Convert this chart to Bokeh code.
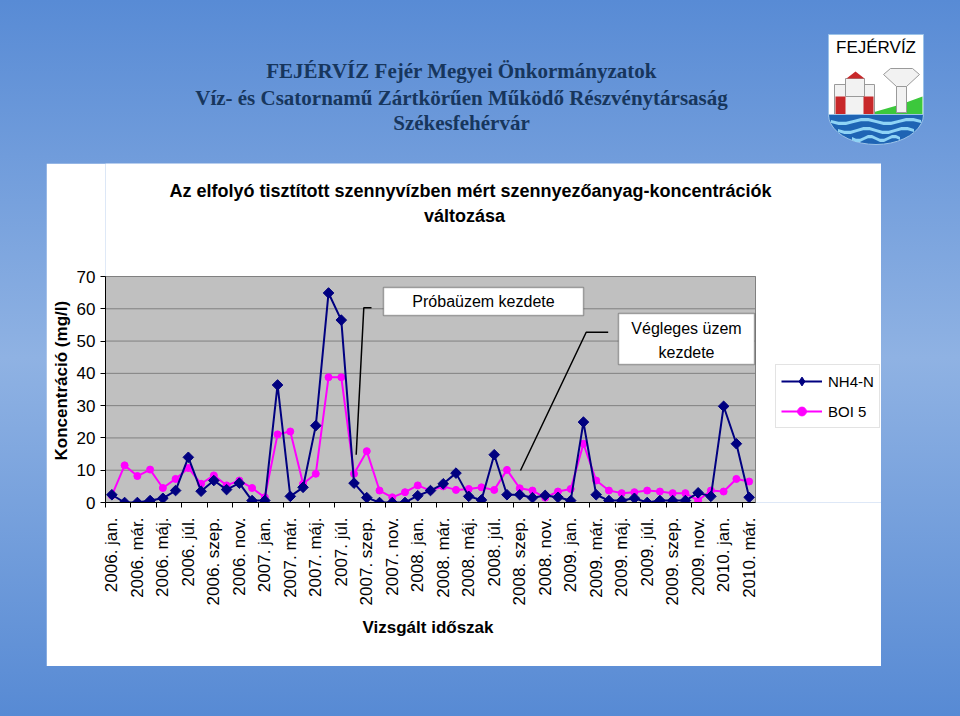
import math
from bokeh.plotting import figure
from bokeh.layouts import column, row
from bokeh.models import (Range1d, FixedTicker, BoxAnnotation, Label, Legend, LegendItem,
                          ColumnDataSource, Spacer, Title)
from bokeh.embed import file_html
from bokeh.resources import INLINE

# ---------------- data ----------------
tick_labels = ["2006. jan.", "2006. már.", "2006. máj.", "2006. júl.", "2006. szep.", "2006. nov.",
               "2007. jan.", "2007. már.", "2007. máj.", "2007. júl.", "2007. szep.", "2007. nov.",
               "2008. jan.", "2008. már.", "2008. máj.", "2008. júl.", "2008. szep.", "2008. nov.",
               "2009. jan.", "2009. már.", "2009. máj.", "2009. júl.", "2009. szep.", "2009. nov.",
               "2010. jan.", "2010. már."]
nh4_n = [2.4, 0, 0, 0.6, 1.3, 3.7, 14.0, 3.5, 6.8, 4.0, 6.0, 0.6, 0.6, 36.4, 1.9, 4.7, 23.8,
         64.9, 56.5, 6.0, 1.5, 0, 0, 0, 2.1, 3.7, 5.8, 9.1, 1.9, 0.8, 14.8, 2.4, 2.4, 1.5, 2.2,
         1.6, 0.6, 24.9, 2.4, 0.6, 0.6, 1.3, 0, 0.6, 0.6, 0.6, 3.0, 1.9, 29.8, 18.2, 1.6]
boi_5 = [2.2, 11.5, 8.2, 10.2, 4.5, 7.3, 10.7, 5.8, 8.4, 5.3, 6.8, 4.5, 1.6, 21.1, 22.0, 5.8,
         8.9, 38.8, 38.8, 8.9, 15.9, 3.7, 1.6, 3.2, 5.3, 3.7, 5.0, 3.9, 4.2, 4.7, 3.9, 10.1, 4.4,
         3.7, 1.5, 3.4, 4.2, 18.2, 6.8, 3.7, 2.9, 3.2, 3.7, 3.4, 2.9, 2.9, 0.6, 3.7, 3.4, 7.3, 6.5]
series_names = ["NH4-N", "BOI 5"]
y_ticks = [0, 10, 20, 30, 40, 50, 60, 70]
header_lines = ["FEJÉRVÍZ Fejér Megyei Önkormányzatok",
                "Víz- és Csatornamű Zártkörűen Működő Részvénytársaság",
                "Székesfehérvár"]
chart_title = ["Az elfolyó tisztított szennyvízben mért szennyezőanyag-koncentrációk", "változása"]
x_title = "Vizsgált időszak"
y_title = "Koncentráció (mg/l)"

n = len(nh4_n)
src = ColumnDataSource(dict(x=list(range(n)), nh4=nh4_n, boi=boi_5))

SANS = "Liberation Sans"
SERIF = "Liberation Serif"
NAVY = "#17365D"

# page geometry (pixels)
PW, PH = 960, 716
BOX_L, BOX_T, BOX_R, BOX_B = 46, 163, 881, 666     # white chart area
FL, FT, FR, FB = 105, 276, 755, 502                  # grey plot area


def lab(f, X, Y, text, size, font=SANS, style="normal", color="black", align="center"):
    f.add_layout(Label(x=X, y=Y, text=text, text_font=font, text_font_size=size,
                       text_font_style=style, text_color=color, text_align=align,
                       text_baseline="middle"))


# ---------------- header (transparent, page-pixel coordinates) ----------------
hdr = figure(width=PW, height=BOX_T, output_backend="svg", toolbar_location=None,
             x_range=Range1d(0, PW), y_range=Range1d(BOX_T, 0),
             min_border=0, min_border_left=0, min_border_right=0, min_border_top=0,
             min_border_bottom=0, outline_line_color=None,
             background_fill_color=None, border_fill_color=None)
hdr.axis.visible = False
hdr.grid.visible = False
for Y, txt in zip([70, 97, 122], header_lines):
    lab(hdr, 461, Y, txt, "21px", font=SERIF, style="bold", color=NAVY)

# logo
hdr.quad(left=828, right=923, top=34, bottom=116, fill_color="white", line_color="#9CC3E8")
lab(hdr, 875.5, 47, "FEJÉRVÍZ", "17px")
hdr.patch([872, 900, 922, 922, 872], [112, 104, 96, 116, 116], fill_color="#3CC83C", line_color=None)
hdr.quad(left=834, right=874, top=84, bottom=116, fill_color="#F2F2F2", line_color="#9A9A9A")
hdr.quad(left=845, right=864, top=78, bottom=96, fill_color="#F2F2F2", line_color="#9A9A9A")
hdr.patch([846, 855, 864], [78, 71, 78], fill_color="#C8282A", line_color=None)
hdr.quad(left=[835, 863], right=[845, 873], top=[96, 96], bottom=[116, 116],
         fill_color="#C8282A", line_color=None)
hdr.quad(left=896, right=906, top=84, bottom=112, fill_color="#F2F2F2", line_color="#9A9A9A")
hdr.patch([883, 890, 912, 919, 906, 896], [74, 68, 68, 74, 86, 86], fill_color="#F2F2F2",
          line_color="#9A9A9A")
sh_x = [828, 923] + [875.5 + 47.5 * math.cos(math.pi * k / 20) for k in range(21)]
sh_y = [114, 114] + [114 + 30 * math.sin(math.pi * k / 20) for k in range(21)]
hdr.patch(sh_x, sh_y, fill_color="#1E64B4", line_color="#9CC3E8")
for yb, half in ((121, 45), (130, 38), (138, 24)):
    xs = [875.5 - half + 2 * half * k / 12 for k in range(13)]
    offs = [2.2 * math.sin(k * math.pi / 3) for k in range(13)]
    hdr.patch(xs + xs[::-1], [yb + o - 1.6 for o in offs] + [yb + o + 1.6 for o in offs[::-1]],
              fill_color="#8FD3F5", line_color=None)


# ---------------- chart ----------------
def dx(X):
    return -0.5 + (X - FL) * n / (FR - FL)


def dy(Y):
    return (FB - Y) * 70.0 / (FB - FT)


# frame spans the grey area plus the title rows above and the legend column at right
p = figure(width=BOX_R - BOX_L, height=BOX_B - BOX_T, output_backend="svg", toolbar_location=None,
           x_range=Range1d(-0.5, dx(BOX_R)), y_range=Range1d(0, dy(BOX_T)),
           min_border_left=FL - BOX_L, min_border_right=0,
           min_border_top=0, min_border_bottom=BOX_B - FB,
           background_fill_color="white", border_fill_color="white",
           outline_line_color=None)
p.grid.visible = False

# grey plot area and horizontal gridlines
p.quad(left=-0.5, right=n - 0.5, bottom=0, top=70, fill_color="#C0C0C0",
       line_color="#808080", line_width=1)
p.segment(x0=[-0.5] * len(y_ticks), x1=[n - 0.5] * len(y_ticks), y0=y_ticks, y1=y_ticks,
          line_color="#808080", line_width=1)

xa = p.xaxis[0]
xa.bounds = (-0.5, n - 0.5)
xa.ticker = FixedTicker(ticks=list(range(0, n, 2)),
                        minor_ticks=[i - 0.5 for i in range(0, n + 1, 2)])
xa.major_label_overrides = {i * 2: t for i, t in enumerate(tick_labels)}
xa.major_label_orientation = math.pi / 2
xa.major_tick_out = 0
xa.major_tick_in = 0
xa.minor_tick_out = 5
xa.minor_tick_in = 0
xa.minor_tick_line_color = "black"
xa.axis_line_color = "black"
xa.major_label_standoff = 10
xa.major_label_text_font = SANS
xa.major_label_text_font_size = "17px"
xa.major_label_text_color = "black"

ya = p.yaxis[0]
ya.bounds = (0, 70)
ya.ticker = FixedTicker(ticks=y_ticks)
ya.major_tick_out = 5
ya.major_tick_in = 0
ya.minor_tick_out = 0
ya.minor_tick_in = 0
ya.axis_line_color = "black"
ya.major_tick_line_color = "black"
ya.major_label_standoff = 5
ya.major_label_text_font = SANS
ya.major_label_text_font_size = "17px"
ya.major_label_text_color = "black"

# axis titles as side-panel titles, offset so they sit under / beside the grey plot area
p.add_layout(Title(text=x_title, align="left", offset=257,
                   standoff=15, text_font=SANS, text_font_size="17px",
                   text_font_style="bold", text_color="black"), "below")
p.add_layout(Title(text=y_title, align="left", offset=42,
                   standoff=6, text_font=SANS, text_font_size="17px",
                   text_font_style="bold", text_color="black"), "left")

# chart title (inside the frame, above the plot area)
lab(p, dx(470), dy(190), chart_title[0], "18px", style="bold")
lab(p, dx(464), dy(215), chart_title[1], "18px", style="bold")

l2 = p.line("x", "boi", source=src, line_color="#FF00FF", line_width=2)
m2 = p.scatter("x", "boi", source=src, marker="circle", size=7,
               fill_color="#FF00FF", line_color="#FF00FF")
l1 = p.line("x", "nh4", source=src, line_color="#000080", line_width=2)
m1 = p.scatter("x", "nh4", source=src, marker="square", angle=math.pi / 4, size=7.5,
               fill_color="#000080", line_color="#000080")
# hidden diamond renderer used only as the legend swatch (legend ignores marker angle)
m1_leg = p.scatter("x", "nh4", source=src, marker="diamond", size=12,
                   fill_color="#000080", line_color="#000080", visible=False)

# callouts (positions converted from page pixels into data units)
p.line([dx(371), dx(363.3), dx(355.7)], [dy(307.3), dy(307.3), dy(454.3)],
       line_color="black", line_width=1.5)
p.line([dx(607.7), dx(585.7), dx(520)], [dy(331.7), dy(331.7), dy(470)],
       line_color="black", line_width=1.5)
p.add_layout(BoxAnnotation(left=dx(383), right=dx(583), top=dy(287), bottom=dy(315),
                           fill_color="white", fill_alpha=1, line_color="black", line_width=1.5))
p.add_layout(BoxAnnotation(left=dx(618), right=dx(754), top=dy(313), bottom=dy(364),
                           fill_color="white", fill_alpha=1, line_color="black", line_width=1.5))
lab(p, dx(483), dy(301), "Próbaüzem kezdete", "16px")
lab(p, dx(686), dy(328), "Végleges üzem", "16px")
lab(p, dx(686), dy(352), "kezdete", "16px")

legend = Legend(items=[LegendItem(label=series_names[0], renderers=[l1, m1_leg]),
                       LegendItem(label=series_names[1], renderers=[l2, m2])],
                location=(775 - FL, FB - 428), orientation="vertical",
                label_text_font=SANS, label_text_font_size="15px", label_text_color="black",
                glyph_width=41, glyph_height=22, label_height=22, label_standoff=6,
                padding=5, spacing=8, margin=0, inactive_fill_alpha=0,
                border_line_color="#C8C8C8", background_fill_color="white",
                background_fill_alpha=1)
p.add_layout(legend)

page = column(hdr,
              row(Spacer(width=BOX_L, height=BOX_B - BOX_T), p,
                  Spacer(width=PW - BOX_R, height=BOX_B - BOX_T), spacing=0),
              Spacer(width=PW, height=PH - BOX_B),
              spacing=0, width=PW, height=PH,
              styles={"background": "linear-gradient(180deg, #588BD5 0%, #8FB2E3 50%, #578AD4 100%)"})

open("out.html", "w").write(file_html(page, INLINE))
